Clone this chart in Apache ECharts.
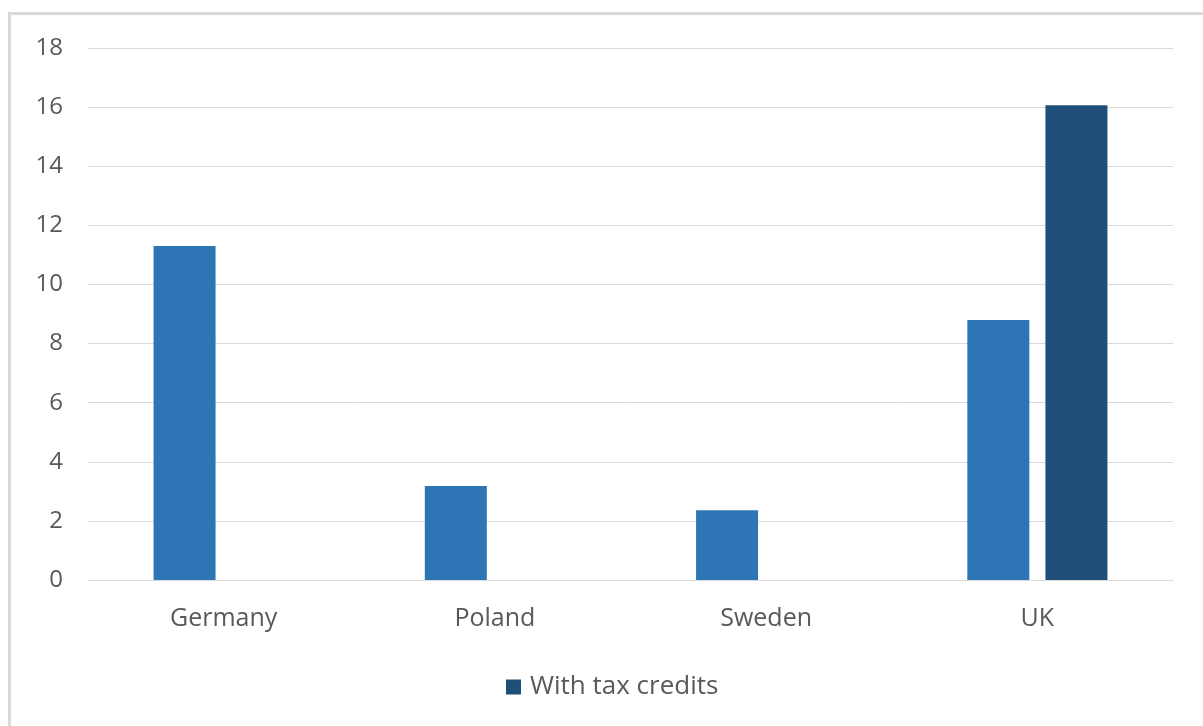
<!DOCTYPE html>
<html>
<head>
<meta charset="utf-8">
<script src="https://cdn.jsdelivr.net/npm/echarts@6/dist/echarts.min.js"></script>
<style>
  html, body { margin: 0; padding: 0; background: #fff; }
  #chart { width: 1203px; height: 726px; }
</style>
</head>
<body>
<div id="chart"></div>
<script>
const categories = ['Germany', 'Poland', 'Sweden', 'UK'];
const baseValues = [11.3, 3.18, 2.36, 8.8];
const taxCreditValues = [null, null, null, 16.06];
const yTicks = { min: 0, max: 18, interval: 2 };

const FONT = 'Open Sans';
const TEXT = '#595959';

const chart = echarts.init(document.getElementById('chart'));
chart.setOption({
  backgroundColor: '#ffffff',
  animation: false,
  graphic: [{
    type: 'rect',
    shape: { x: 9.5, y: 13.5, width: 1220, height: 740 },
    style: { fill: 'none', stroke: '#D9D9D9', lineWidth: 3 },
    silent: true
  }],
  grid: { left: 88, right: 30, top: 48, bottom: 146, containLabel: false },
  legend: {
    data: ['With tax credits'],
    bottom: 21,
    left: 501,
    icon: 'rect',
    itemWidth: 15,
    itemHeight: 15,
    itemGap: 10,
    textStyle: { color: TEXT, fontFamily: FONT, fontSize: 26, padding: [0, 0, 0, 4] }
  },
  xAxis: {
    type: 'category',
    data: categories,
    axisLine: { show: true, lineStyle: { color: '#D9D9D9', width: 1 } },
    axisTick: { show: false },
    axisLabel: { color: TEXT, fontFamily: FONT, fontSize: 25, margin: 26 }
  },
  yAxis: {
    type: 'value',
    min: yTicks.min,
    max: yTicks.max,
    interval: yTicks.interval,
    axisLine: { show: false },
    axisTick: { show: false },
    axisLabel: { color: TEXT, fontFamily: FONT, fontSize: 24, margin: 25 },
    splitLine: { lineStyle: { color: '#D9D9D9', width: 1 } }
  },
  series: [
    {
      name: '',
      type: 'bar',
      data: baseValues,
      itemStyle: { color: '#2E75B6' },
      barWidth: 62,
      barGap: '26%'
    },
    {
      name: 'With tax credits',
      type: 'bar',
      data: taxCreditValues,
      itemStyle: { color: '#1F4E79' },
      barWidth: 62,
      barGap: '26%'
    }
  ]
});
</script>
</body>
</html>
